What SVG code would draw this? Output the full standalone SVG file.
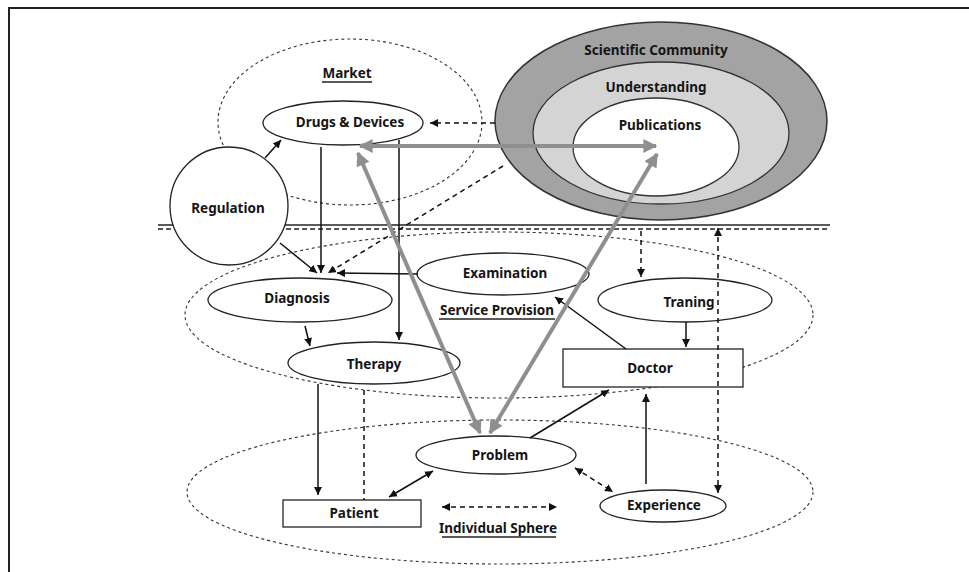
<svg xmlns="http://www.w3.org/2000/svg" width="969" height="572" viewBox="0 0 969 572">
<defs>
<style>
.t{font-family:"Noto Sans","Open Sans","Liberation Sans",sans-serif;font-weight:bold;font-size:13.5px;fill:#151515;text-anchor:middle;dominant-baseline:central}
.n{fill:#fff;stroke:#222;stroke-width:1.3}
.zone{fill:none;stroke:#333;stroke-width:1.1;stroke-dasharray:3,3}
.c{fill:none;stroke:#111;stroke-width:1.5}
.d{fill:none;stroke:#111;stroke-width:1.5;stroke-dasharray:5,4}
.g{fill:none;stroke:#8f8f8f;stroke-width:4}
.u{stroke:#222;stroke-width:1.3}
</style>
<marker id="a" viewBox="0 0 10 10" refX="10" refY="5" markerWidth="8" markerHeight="8" markerUnits="userSpaceOnUse" orient="auto-start-reverse"><path d="M0,0 L10,5 L0,10 z" fill="#111"/></marker>
<marker id="ga" viewBox="0 0 10 10" refX="9" refY="5" markerWidth="16" markerHeight="14" markerUnits="userSpaceOnUse" orient="auto-start-reverse"><path d="M0,0 L10,5 L0,10 z" fill="#8f8f8f"/></marker>
</defs>
<rect width="969" height="572" fill="#fff"/>
<!-- frame -->
<path d="M9,572 V8 H969" fill="none" stroke="#222" stroke-width="2"/>

<!-- zones -->
<g id="market-zone">
<ellipse class="zone" cx="350" cy="122" rx="132" ry="83"/>
<text class="t" x="347" y="73">Market</text>
<line class="u" x1="322" y1="82" x2="372" y2="82"/>
</g>
<g id="service-zone">
<ellipse class="zone" cx="499" cy="315" rx="314" ry="83"/>
<text class="t" x="497" y="310">Service Provision</text>
<line class="u" x1="439" y1="319" x2="555" y2="319"/>
</g>
<g id="individual-zone">
<ellipse class="zone" cx="500" cy="492" rx="313" ry="72"/>
<text class="t" x="498" y="528">Individual Sphere</text>
<line class="u" x1="442" y1="537" x2="556" y2="537"/>
</g>

<!-- scientific community -->
<g id="scientific-community">
<ellipse cx="661" cy="121" rx="166" ry="99" fill="#a3a3a3" stroke="#333" stroke-width="1.5"/>
<text class="t" x="656" y="50">Scientific Community</text>
</g>
<g id="understanding">
<ellipse cx="661" cy="133" rx="128" ry="71" fill="#d4d4d4" stroke="#333" stroke-width="1.3"/>
<text class="t" x="656" y="87">Understanding</text>
</g>
<g id="publications">
<ellipse cx="656" cy="147" rx="83" ry="49" fill="#fff" stroke="#333" stroke-width="1.3"/>
<text class="t" x="660" y="125">Publications</text>
</g>

<!-- separator -->
<g id="separator">
<line x1="158" y1="225" x2="830" y2="225" stroke="#222" stroke-width="1.5"/>
<line x1="158" y1="229" x2="830" y2="229" stroke="#222" stroke-width="1.5" stroke-dasharray="5,3"/>
</g>

<!-- nodes -->
<g id="drugs-devices"><ellipse class="n" cx="343" cy="123" rx="80" ry="22"/><text class="t" x="350" y="122">Drugs &amp; Devices</text></g>
<g id="regulation"><circle class="n" cx="229" cy="206" r="59"/><text class="t" x="228" y="208">Regulation</text></g>
<g id="examination"><ellipse class="n" cx="503" cy="274" rx="86" ry="21"/><text class="t" x="505" y="273">Examination</text></g>
<g id="diagnosis"><ellipse class="n" cx="300" cy="300" rx="92" ry="22"/><text class="t" x="297" y="298">Diagnosis</text></g>
<g id="therapy"><ellipse class="n" cx="374" cy="363" rx="86" ry="21"/><text class="t" x="374" y="364">Therapy</text></g>
<g id="traning"><ellipse class="n" cx="685" cy="300" rx="87" ry="22"/><text class="t" x="689" y="302">Traning</text></g>
<g id="doctor"><rect class="n" x="563" y="349" width="180" height="38"/><text class="t" x="650" y="368">Doctor</text></g>
<g id="problem"><ellipse class="n" cx="496" cy="455" rx="80" ry="19"/><text class="t" x="500" y="455">Problem</text></g>
<g id="patient"><rect class="n" x="283" y="500" width="138" height="27"/><text class="t" x="354" y="513">Patient</text></g>
<g id="experience"><ellipse class="n" cx="663" cy="506" rx="63" ry="16"/><text class="t" x="664" y="505">Experience</text></g>

<!-- connectors -->
<g id="connectors">
<line class="c" x1="321" y1="147" x2="321" y2="273" marker-end="url(#a)"/>
<line class="c" x1="399" y1="140" x2="399" y2="340" marker-end="url(#a)"/>
<line class="c" x1="265" y1="158" x2="281" y2="140" marker-end="url(#a)"/>
<line class="c" x1="280" y1="243" x2="317" y2="273" marker-end="url(#a)"/>
<line class="d" x1="503" y1="166" x2="328" y2="273" marker-end="url(#a)"/>
<line class="d" x1="495" y1="123" x2="430" y2="123" marker-end="url(#a)"/>
<line class="c" x1="418" y1="274" x2="337" y2="273" marker-end="url(#a)"/>
<line class="c" x1="305" y1="326" x2="310" y2="346" marker-end="url(#a)"/>
<line class="c" x1="626" y1="349" x2="555" y2="297" marker-end="url(#a)"/>
<line class="c" x1="686" y1="322" x2="686" y2="347" marker-end="url(#a)"/>
<line class="d" x1="641" y1="231" x2="641" y2="277" marker-end="url(#a)"/>
<line class="d" x1="718" y1="228" x2="718" y2="493" marker-start="url(#a)" marker-end="url(#a)"/>
<line class="c" x1="530" y1="438" x2="609" y2="390" marker-end="url(#a)"/>
<line class="c" x1="646" y1="484" x2="646" y2="394" marker-end="url(#a)"/>
<line class="d" x1="575" y1="468" x2="613" y2="492" marker-start="url(#a)" marker-end="url(#a)"/>
<line class="c" x1="318" y1="384" x2="318" y2="495" marker-end="url(#a)"/>
<line class="c" x1="364" y1="390" x2="364" y2="500" stroke-width="1" stroke-dasharray="5,4"/>
<line class="c" x1="389" y1="497" x2="433" y2="471" marker-start="url(#a)" marker-end="url(#a)"/>
<line class="d" x1="442" y1="507" x2="557" y2="507" marker-start="url(#a)" marker-end="url(#a)"/>
<line class="g" x1="360" y1="146" x2="656" y2="146" marker-start="url(#ga)" marker-end="url(#ga)"/>
<line class="g" x1="480" y1="433" x2="358" y2="153" marker-start="url(#ga)" marker-end="url(#ga)"/>
<line class="g" x1="490" y1="433" x2="657" y2="154" marker-start="url(#ga)" marker-end="url(#ga)"/>
</g>
</svg>
